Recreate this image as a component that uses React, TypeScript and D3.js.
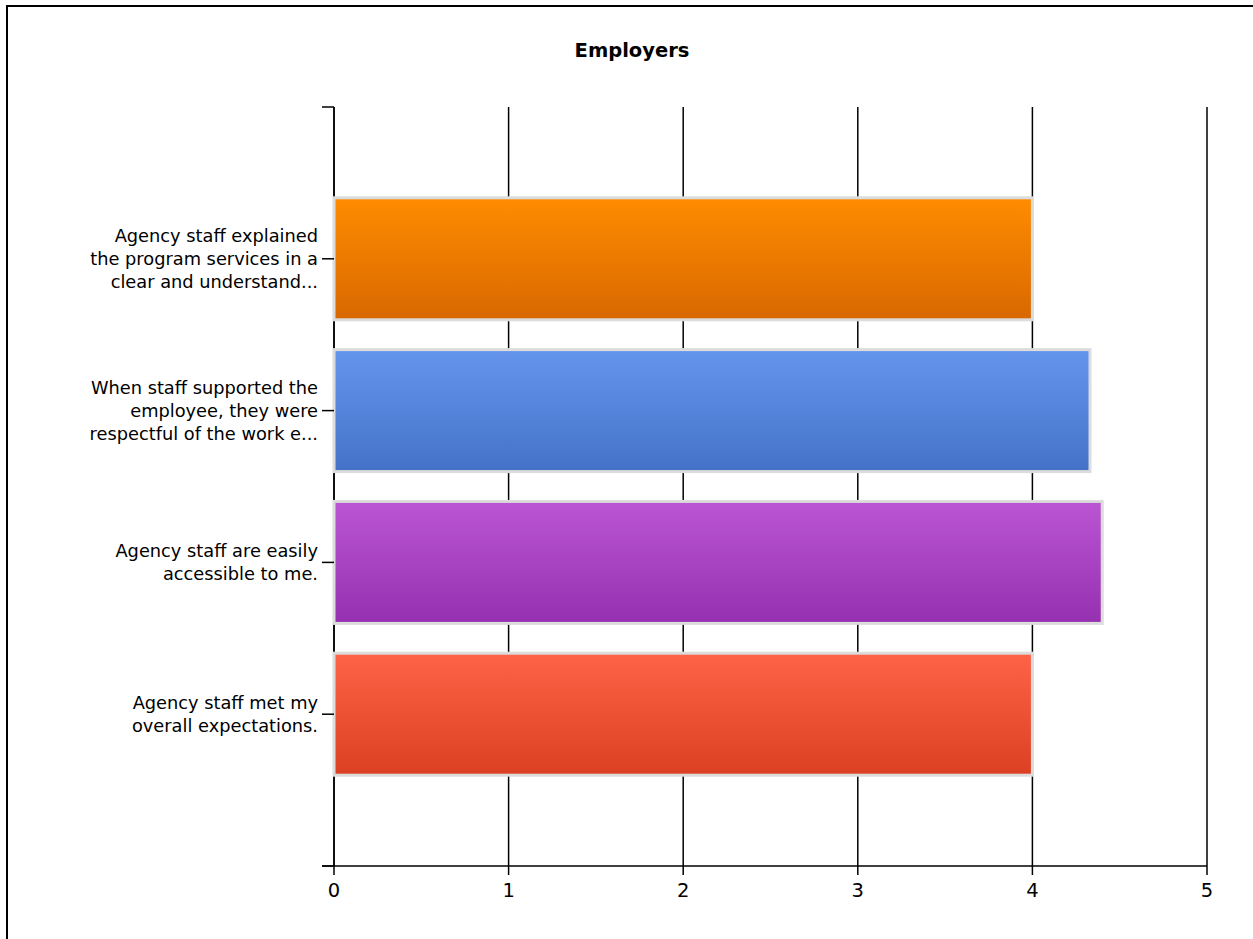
import React from "react";
import * as d3 from "d3";

const title = "Employers";
const categories: string[][] = [
  ["Agency staff explained", "the program services in a", "clear and understand..."],
  ["When staff supported the", "employee, they were", "respectful of the work e..."],
  ["Agency staff are easily", "accessible to me."],
  ["Agency staff met my", "overall expectations."],
];
const values = [4, 4.33, 4.4, 4];
const xTicks = [0, 1, 2, 3, 4, 5];
const colorTop = ["#ff8c00", "#6495ed", "#bb55d4", "#ff6347"];
const colorBottom = ["#d86800", "#4472c8", "#9530b0", "#dc4022"];

const W = 1253;
const H = 939;
const left = 334;
const right = 1207;
const top = 107;
const bottom = 866;

export default function App() {
  const x = d3.scaleLinear().domain([0, 5]).range([left, right]);
  const band = (bottom - top) / 5;
  const y = (i: number) => top + band * (i + 1);
  const barH = 122;
  const font = "'DejaVu Sans', Tahoma, sans-serif";
  return (
    <svg width={W} height={H} style={{ position: "absolute", left: 0, top: 0 }}>
      <defs>
        {values.map((_, i) => (
          <linearGradient key={i} id={`g${i}`} x1="0" y1="0" x2="0" y2="1">
            <stop offset="0" stopColor={colorTop[i]} />
            <stop offset="1" stopColor={colorBottom[i]} />
          </linearGradient>
        ))}
      </defs>
      <rect x={0} y={0} width={W} height={H} fill="#fff" />
      <rect x={7} y={6} width={W + 20} height={H + 20} fill="none" stroke="#000" strokeWidth={2} />
      <text x={632} y={57} textAnchor="middle" fontFamily={font} fontWeight="bold" fontSize={19.5} fill="#000">
        {title}
      </text>
      {/* gridlines */}
      {xTicks.map((t) => (
        <line key={t} x1={x(t)} x2={x(t)} y1={top} y2={bottom} stroke="#000" strokeWidth={1.5} />
      ))}
      {/* y axis */}
      <line x1={left} x2={left} y1={top} y2={bottom} stroke="#000" strokeWidth={1.5} />
      <line x1={left - 12} x2={left} y1={top} y2={top} stroke="#000" strokeWidth={1.5} />
      <line x1={left - 12} x2={left} y1={bottom} y2={bottom} stroke="#000" strokeWidth={1.5} />
      {/* x axis */}
      <line x1={left - 12} x2={right} y1={bottom} y2={bottom} stroke="#000" strokeWidth={1.5} />
      {xTicks.map((t) => (
        <g key={t}>
          <line x1={x(t)} x2={x(t)} y1={bottom} y2={bottom + 9} stroke="#000" strokeWidth={1.5} />
          <text x={x(t)} y={bottom + 31} textAnchor="middle" fontFamily={font} fontSize={19.5} fill="#000">
            {t}
          </text>
        </g>
      ))}
      {/* bars */}
      {values.map((v, i) => (
        <rect
          key={i}
          x={x(0)}
          y={y(i) - barH / 2}
          width={x(v) - x(0)}
          height={barH}
          fill={`url(#g${i})`}
          stroke="#dcdcdc"
          strokeWidth={3}
        />
      ))}
      {/* category labels */}
      {categories.map((lines, i) => {
        const lh = 23;
        const start = y(i) - ((lines.length - 1) * lh) / 2;
        return (
          <g key={i}>
            <line x1={left - 12} x2={left} y1={y(i)} y2={y(i)} stroke="#000" strokeWidth={1.5} />
            {lines.map((l, j) => (
              <text
                key={j}
                x={318}
                y={start + j * lh}
                dy="0.35em"
                textAnchor="end"
                fontFamily={font}
                fontSize={17.8}
                fill="#000"
              >
                {l}
              </text>
            ))}
          </g>
        );
      })}
    </svg>
  );
}
